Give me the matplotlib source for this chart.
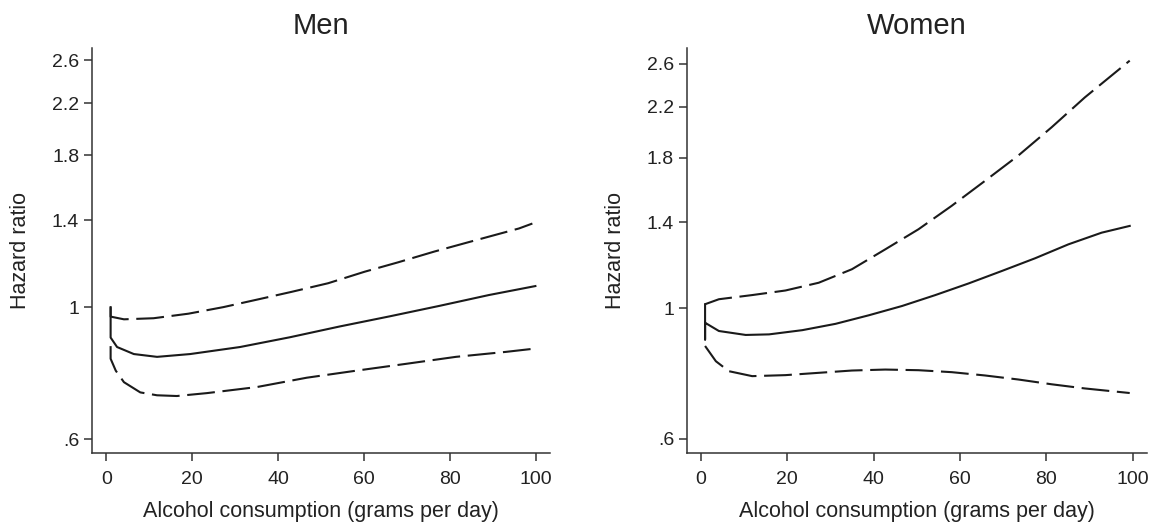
import matplotlib
matplotlib.use("Agg")
import matplotlib.pyplot as plt

plt.rcParams['font.family'] = ['Liberation Sans', 'DejaVu Sans']
plt.rcParams['lines.scale_dashes'] = False

# ---- data ----
men_mid_x = [1, 1, 2.5, 6.4, 11.8, 19.5, 31.1, 42.7, 54.3, 65.9, 77.5, 89.0, 99.8]
men_mid_y = [1.0, 0.889, 0.857, 0.834, 0.825, 0.834, 0.857, 0.890, 0.928, 0.965, 1.005, 1.048, 1.085]
men_hi_x = [1, 1, 4.1, 11.0, 19.1, 27.2, 35.7, 43.1, 51.6, 60.1, 67.8, 76.3, 84.8, 96.0, 99.1]
men_hi_y = [1.0, 0.964, 0.954, 0.958, 0.975, 1.0, 1.032, 1.061, 1.097, 1.147, 1.189, 1.240, 1.289, 1.356, 1.382]
men_lo_x = [1, 1, 2.2, 4.1, 7.9, 11.8, 16.4, 23.4, 35.0, 46.6, 58.1, 69.7, 81.3, 92.9, 99.8]
men_lo_y = [0.860, 0.819, 0.782, 0.748, 0.719, 0.711, 0.709, 0.717, 0.734, 0.761, 0.782, 0.803, 0.825, 0.841, 0.852]

women_mid_x = [1, 1, 1, 4.2, 10.4, 15.8, 23.5, 31.2, 38.9, 46.6, 54.3, 62.0, 69.7, 77.4, 85.1, 92.8, 99.3]
women_mid_y = [1.015, 0.884, 0.944, 0.914, 0.900, 0.902, 0.917, 0.940, 0.972, 1.008, 1.052, 1.101, 1.156, 1.215, 1.283, 1.343, 1.379]
women_hi_x = [1, 4.2, 11.9, 19.6, 27.3, 35.0, 42.7, 50.4, 58.1, 65.8, 73.5, 81.2, 88.9, 99.3]
women_hi_y = [1.015, 1.035, 1.052, 1.071, 1.104, 1.164, 1.258, 1.361, 1.492, 1.645, 1.816, 2.028, 2.280, 2.633]
women_lo_x = [1, 3.5, 6.5, 11.9, 19.6, 27.3, 35.0, 42.7, 50.4, 58.1, 65.8, 73.5, 81.2, 88.9, 99.3]
women_lo_y = [0.862, 0.812, 0.781, 0.766, 0.769, 0.776, 0.783, 0.786, 0.784, 0.778, 0.768, 0.756, 0.742, 0.730, 0.717]

yticks = [0.6, 1, 1.4, 1.8, 2.2, 2.6]
ytick_labels = ['.6', '1', '1.4', '1.8', '2.2', '2.6']
xticks = [0, 20, 40, 60, 80, 100]
titles = ['Men', 'Women']

W, H = 1151, 524
fig = plt.figure(figsize=(W / 100, H / 100), dpi=100)
fig.patch.set_facecolor('white')

def px_axes(l, r, t, b):
    return fig.add_axes([l / W, (H - b) / H, (r - l) / W, (b - t) / H])

ax_m = px_axes(91.7, 550, 47.7, 453)
ax_w = px_axes(686.5, 1147, 47.7, 453)

col = '#1a1a1a'
lw = 1.5
dash = (20, 5.5)

panels = [
    (ax_m, men_mid_x, men_mid_y, men_hi_x, men_hi_y, men_lo_x, men_lo_y, (-3.4, 103.2), (0.5687, 2.729)),
    (ax_w, women_mid_x, women_mid_y, women_hi_x, women_hi_y, women_lo_x, women_lo_y, (-3.3, 103.3), (0.567, 2.77)),
]

for (ax, mx, my, hx, hy, lx, ly, xl, yl), title in zip(panels, titles):
    ax.plot(mx, my, color=col, lw=lw, solid_joinstyle='round')
    ax.plot(hx, hy, color=col, lw=lw, dashes=dash)
    ax.plot(lx, ly, color=col, lw=lw, dashes=dash)
    ax.set_yscale('log')
    ax.set_xlim(*xl)
    ax.set_ylim(*yl)
    ax.set_yticks(yticks)
    ax.set_yticklabels(ytick_labels)
    ax.yaxis.set_minor_locator(matplotlib.ticker.NullLocator())
    ax.set_xticks(xticks)
    ax.set_xticklabels([str(v) for v in xticks])
    for s in ['top', 'right']:
        ax.spines[s].set_visible(False)
    for s in ['left', 'bottom']:
        ax.spines[s].set_color('#333333')
        ax.spines[s].set_linewidth(1.1)
    ax.tick_params(axis='both', length=6, width=1.1, color='#333333',
                   labelsize=14, labelcolor='#222222', pad=3)
    ax.tick_params(axis='x', pad=7)
    ax.set_xlabel('Alcohol consumption (grams per day)', fontsize=15.5, color='#222222', labelpad=9)
    ax.set_ylabel('Hazard ratio', fontsize=15.5, color='#222222', labelpad=15)
    ax.set_title(title, fontsize=21, color='#222222', pad=10)
    ax.set_facecolor('white')

fig.savefig('out.png', dpi=100, facecolor='white')
